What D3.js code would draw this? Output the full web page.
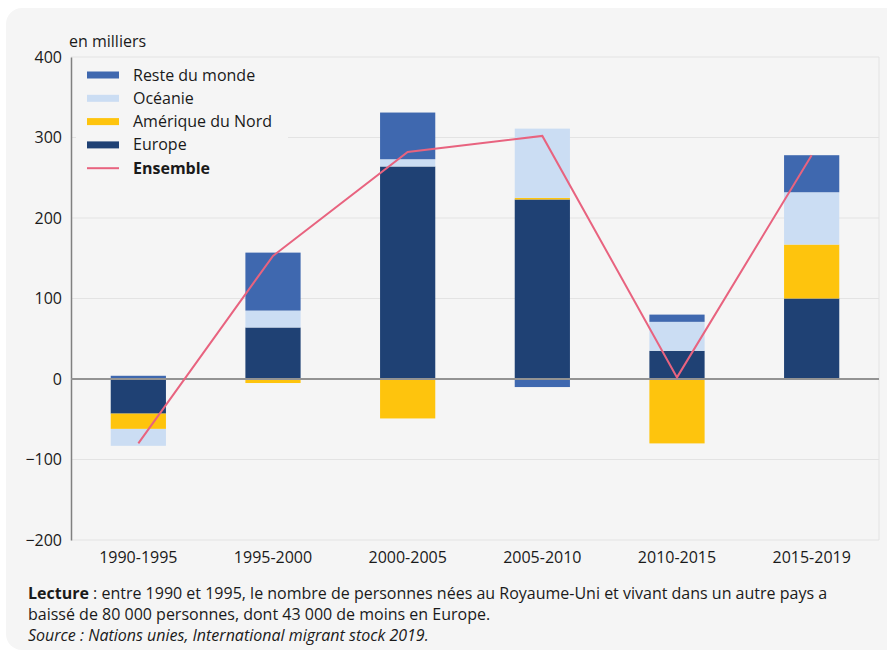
<!DOCTYPE html>
<html>
<head>
<meta charset="utf-8">
<script src="https://cdn.jsdelivr.net/npm/d3@7"></script>
<style>
  body { margin: 0; background: #fff; font-family: "Open Sans", sans-serif; }
  svg text { font-family: "Open Sans", sans-serif; fill: #1a1a1a; }
</style>
</head>
<body>
<svg width="887" height="657"></svg>
<script>
// ---- data (en milliers) ----
const periods = ["1990-1995", "1995-2000", "2000-2005", "2005-2010", "2010-2015", "2015-2019"];
const europe       = [-43,  64, 264, 223,  35, 100];
const ameriqueNord = [-19,  -5, -49,   2, -80,  67];
const oceanie      = [-21,  21,   9,  86,  36,  65];
const resteMonde   = [  4,  72,  58, -10,   9,  46];
const ensemble     = [-80, 153, 282, 302,   2, 278];
const yTicks = [-200, -100, 0, 100, 200, 300, 400];

const seriesKeys = ["europe", "ameriqueNord", "oceanie", "resteMonde"];
const seriesColor = {
  europe: "#1f4174",
  ameriqueNord: "#fec40d",
  oceanie: "#cbddf3",
  resteMonde: "#3f68af"
};
const lineColor = "#e8637f";

// legend order (top to bottom)
const legendItems = [
  {label: "Reste du monde", key: "resteMonde"},
  {label: "Océanie", key: "oceanie"},
  {label: "Amérique du Nord", key: "ameriqueNord"},
  {label: "Europe", key: "europe"},
  {label: "Ensemble", key: "ensemble"}
];

const rows = periods.map((p, i) => ({
  period: p,
  europe: europe[i],
  ameriqueNord: ameriqueNord[i],
  oceanie: oceanie[i],
  resteMonde: resteMonde[i],
  ensemble: ensemble[i]
}));

const svg = d3.select("svg");

// card background
svg.append("rect")
  .attr("x", 6).attr("y", 8)
  .attr("width", 900).attr("height", 642)
  .attr("rx", 16)
  .attr("fill", "#f5f5f5");

const plotL = 71, plotR = 879, plotT = 57, plotB = 540;

const x = d3.scaleBand()
  .domain(periods)
  .range([plotL, plotR])
  .paddingInner(0.59)
  .paddingOuter(0.295);

const y = d3.scaleLinear()
  .domain([-200, 400])
  .range([plotB, plotT]);

// gridlines
svg.append("g")
  .selectAll("line")
  .data(yTicks.filter(d => d !== 0))
  .join("line")
  .attr("x1", plotL).attr("x2", plotR)
  .attr("y1", d => y(d)).attr("y2", d => y(d))
  .attr("stroke", "#e3e3e3")
  .attr("stroke-width", 1);

// right frame
svg.append("line")
  .attr("x1", plotR).attr("x2", plotR)
  .attr("y1", y(400)).attr("y2", y(-200))
  .attr("stroke", "#e3e3e3");

// y axis
const yAxis = svg.append("g")
  .attr("transform", `translate(${plotL},0)`)
  .call(d3.axisLeft(y).tickValues(yTicks).tickSize(0).tickPadding(9));
yAxis.select(".domain").attr("stroke", "#808080").attr("stroke-width", 1.5);
yAxis.selectAll("text").style("font-size", "16px").attr("fill", "#1a1a1a");

svg.append("text")
  .attr("x", 69).attr("y", 47)
  .style("font-size", "16px")
  .text("en milliers");

// stacked bars
const stack = d3.stack()
  .keys(seriesKeys)
  .offset(d3.stackOffsetDiverging);
const stacked = stack(rows);

svg.append("g")
  .selectAll("g")
  .data(stacked)
  .join("g")
  .attr("fill", d => seriesColor[d.key])
  .selectAll("rect")
  .data(d => d)
  .join("rect")
  .attr("x", d => x(d.data.period))
  .attr("width", x.bandwidth())
  .attr("y", d => y(Math.max(d[0], d[1])))
  .attr("height", d => Math.abs(y(d[0]) - y(d[1])));

// zero line
svg.append("line")
  .attr("x1", plotL).attr("x2", plotR)
  .attr("y1", y(0)).attr("y2", y(0))
  .attr("stroke", "#939393")
  .attr("stroke-width", 2);

// ensemble line
const line = d3.line()
  .x(d => x(d.period) + x.bandwidth() / 2)
  .y(d => y(d.ensemble));
svg.append("path")
  .datum(rows)
  .attr("d", line)
  .attr("fill", "none")
  .attr("stroke", lineColor)
  .attr("stroke-width", 2);

// x labels
const xAxis = svg.append("g")
  .attr("transform", `translate(0,${plotB})`)
  .call(d3.axisBottom(x).tickSize(0).tickPadding(12));
xAxis.select(".domain").remove();
xAxis.selectAll("text").style("font-size", "16px").attr("fill", "#1a1a1a");

// legend
const legend = svg.append("g");
legend.append("rect")
  .attr("x", 76).attr("y", 60)
  .attr("width", 212).attr("height", 124)
  .attr("fill", "#f5f5f5");

const lg = legend.selectAll("g.item")
  .data(legendItems)
  .join("g")
  .attr("class", "item")
  .attr("transform", (d, i) => `translate(87,${75 + i * 23.3})`);

lg.filter(d => d.key !== "ensemble")
  .append("rect")
  .attr("x", 0).attr("y", -3.5)
  .attr("width", 32).attr("height", 7)
  .attr("fill", d => seriesColor[d.key]);

lg.filter(d => d.key === "ensemble")
  .append("line")
  .attr("x1", 0).attr("x2", 32)
  .attr("y1", 0).attr("y2", 0)
  .attr("stroke", lineColor)
  .attr("stroke-width", 2);

lg.append("text")
  .attr("x", 46).attr("y", 5.5)
  .style("font-size", "16px")
  .style("font-weight", d => d.key === "ensemble" ? "bold" : "normal")
  .text(d => d.label);

// footer notes
const note = svg.append("text")
  .attr("x", 28).attr("y", 599)
  .style("font-size", "16px");
note.append("tspan").style("font-weight", "bold").text("Lecture");
note.append("tspan").text(" : entre 1990 et 1995, le nombre de personnes nées au Royaume-Uni et vivant dans un autre pays a");

svg.append("text")
  .attr("x", 28).attr("y", 620)
  .style("font-size", "16px")
  .text("baissé de 80 000 personnes, dont 43 000 de moins en Europe.");

svg.append("text")
  .attr("x", 28).attr("y", 641)
  .style("font-size", "16px")
  .style("font-style", "italic")
  .text("Source : Nations unies, International migrant stock 2019.");
</script>
</body>
</html>
